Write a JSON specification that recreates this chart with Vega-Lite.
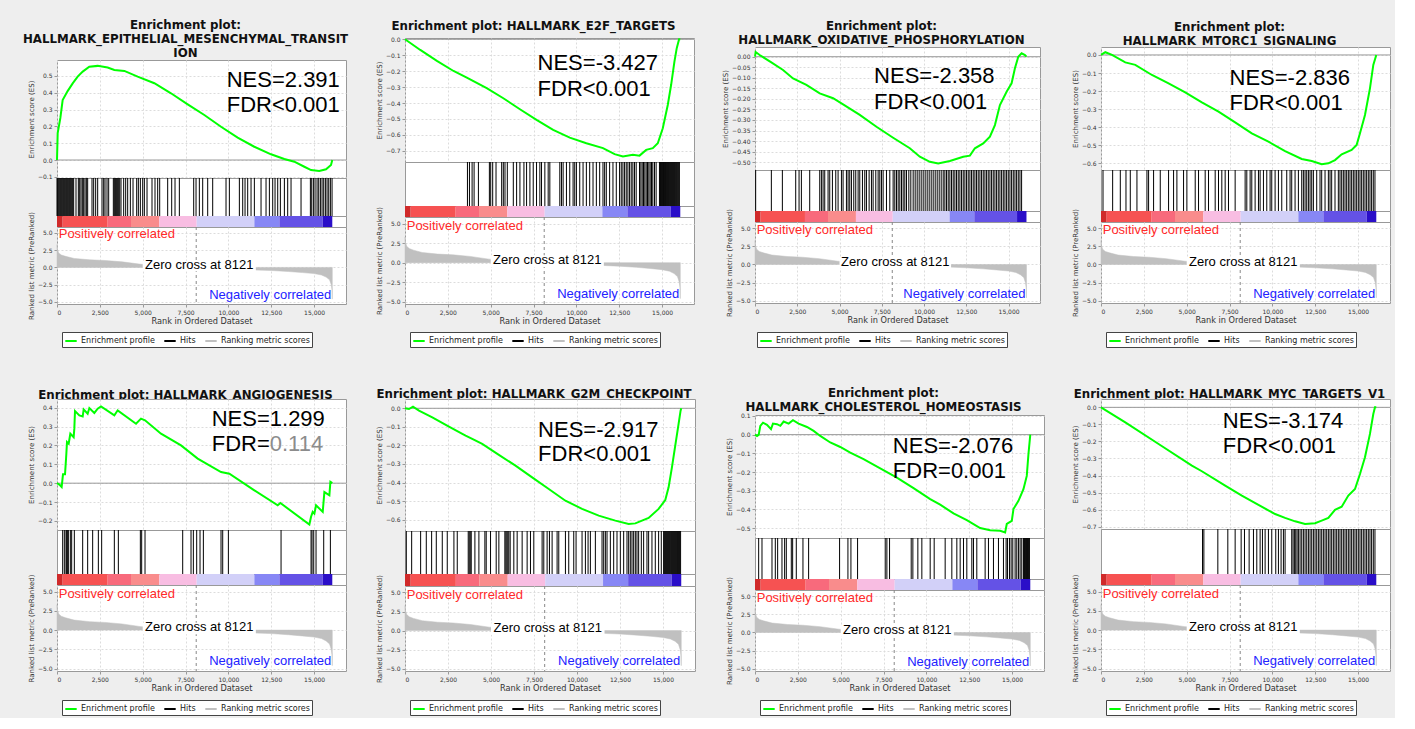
{
"$schema": "https://vega.github.io/schema/vega-lite/v6.json",
"background": "#eeeeee",
"padding": {"left": 22, "top": 15, "right": 4, "bottom": 2},
"columns": 4,
"spacing": {"row": 38, "column": 25},
"resolve": {"scale": {"stroke": "independent"}, "legend": {"stroke": "independent"}},
"datasets": {
"metric": [{"r":0,"v":3.3},{"r":30,"v":2.6},{"r":100,"v":2.1},{"r":250,"v":1.8},{"r":500,"v":1.6},{"r":1000,"v":1.3},{"r":1900,"v":1.1},{"r":2800,"v":1.0},{"r":3800,"v":0.8},{"r":4900,"v":0.45},{"r":6000,"v":0.35},{"r":7000,"v":0.2},{"r":7600,"v":0.1},{"r":8121,"v":0},{"r":9000,"v":-0.12},{"r":10000,"v":-0.25},{"r":11500,"v":-0.36},{"r":12500,"v":-0.45},{"r":13500,"v":-0.6},{"r":14300,"v":-0.75},{"r":15000,"v":-0.9},{"r":15430,"v":-1.1},{"r":15700,"v":-1.4},{"r":15900,"v":-1.8},{"r":16000,"v":-2.5},{"r":16040,"v":-3.2},{"r":16060,"v":-4.6}],
"cbar": [{"a":0,"b":331,"k":1},{"a":331,"b":2956,"k":2},{"a":2956,"b":4318,"k":3},{"a":4318,"b":5971,"k":4},{"a":5971,"b":8150,"k":5},{"a":8150,"b":11514,"k":6},{"a":11514,"b":12973,"k":7},{"a":12973,"b":15502,"k":8},{"a":15502,"b":16060,"k":9}],
"es1": [{"r":0,"es":0},{"r":40,"es":0.16},{"r":195,"es":0.25},{"r":330,"es":0.357},{"r":620,"es":0.41},{"r":915,"es":0.456},{"r":1205,"es":0.496},{"r":1500,"es":0.526},{"r":1885,"es":0.555},{"r":2370,"es":0.56},{"r":2955,"es":0.55},{"r":3345,"es":0.536},{"r":3930,"es":0.53},{"r":4705,"es":0.496},{"r":5680,"es":0.457},{"r":6650,"es":0.397},{"r":7625,"es":0.331},{"r":8595,"es":0.268},{"r":9570,"es":0.198},{"r":10540,"es":0.133},{"r":11510,"es":0.079},{"r":12485,"es":0.034},{"r":13260,"es":0.006},{"r":13845,"es":-0.01},{"r":14430,"es":-0.04},{"r":14820,"es":-0.06},{"r":15300,"es":-0.065},{"r":15695,"es":-0.055},{"r":15985,"es":-0.03},{"r":16060,"es":0}],
"es2": [{"r":0,"es":0},{"r":891,"es":-0.067},{"r":1860,"es":-0.136},{"r":2830,"es":-0.199},{"r":3605,"es":-0.24},{"r":4767,"es":-0.307},{"r":5736,"es":-0.37},{"r":6705,"es":-0.439},{"r":7674,"es":-0.506},{"r":8643,"es":-0.569},{"r":9612,"es":-0.617},{"r":10581,"es":-0.652},{"r":11550,"es":-0.683},{"r":12229,"es":-0.721},{"r":12713,"es":-0.736},{"r":13294,"es":-0.725},{"r":13682,"es":-0.73},{"r":14070,"es":-0.694},{"r":14457,"es":-0.683},{"r":14748,"es":-0.652},{"r":15039,"es":-0.558},{"r":15330,"es":-0.412},{"r":15524,"es":-0.287},{"r":15718,"es":-0.14},{"r":15853,"es":-0.056},{"r":15990,"es":0},{"r":16060,"es":0}],
"es3": [{"r":0,"es":0},{"r":39,"es":0.022},{"r":276,"es":0.008},{"r":967,"es":-0.027},{"r":1658,"es":-0.063},{"r":2250,"es":-0.103},{"r":3040,"es":-0.134},{"r":3830,"es":-0.174},{"r":4619,"es":-0.197},{"r":5211,"es":-0.226},{"r":6198,"es":-0.276},{"r":7185,"es":-0.332},{"r":8172,"es":-0.384},{"r":9159,"es":-0.434},{"r":9751,"es":-0.474},{"r":10344,"es":-0.498},{"r":10837,"es":-0.506},{"r":11528,"es":-0.494},{"r":12318,"es":-0.474},{"r":12713,"es":-0.469},{"r":13009,"es":-0.434},{"r":13502,"es":-0.411},{"r":13897,"es":-0.379},{"r":14193,"es":-0.324},{"r":14489,"es":-0.229},{"r":14884,"es":-0.166},{"r":15180,"es":-0.126},{"r":15377,"es":-0.055},{"r":15575,"es":0},{"r":15772,"es":0.016},{"r":15970,"es":0.008},{"r":16060,"es":0}],
"es4": [{"r":0,"es":0},{"r":252,"es":0.015},{"r":641,"es":0},{"r":1418,"es":-0.041},{"r":2000,"es":-0.055},{"r":2971,"es":-0.111},{"r":3942,"es":-0.157},{"r":4913,"es":-0.207},{"r":5884,"es":-0.262},{"r":6855,"es":-0.314},{"r":7826,"es":-0.373},{"r":8797,"es":-0.434},{"r":9768,"es":-0.48},{"r":10739,"es":-0.532},{"r":11710,"es":-0.576},{"r":12293,"es":-0.587},{"r":12876,"es":-0.605},{"r":13264,"es":-0.6},{"r":13652,"es":-0.582},{"r":14041,"es":-0.55},{"r":14623,"es":-0.526},{"r":14915,"es":-0.498},{"r":15109,"es":-0.434},{"r":15400,"es":-0.332},{"r":15691,"es":-0.185},{"r":15886,"es":-0.055},{"r":16060,"es":0}],
"es5": [{"r":0,"es":0},{"r":136,"es":-0.007},{"r":272,"es":-0.02},{"r":350,"es":0.047},{"r":467,"es":0.047},{"r":506,"es":0.1},{"r":545,"es":0.156},{"r":583,"es":0.218},{"r":681,"es":0.209},{"r":778,"es":0.262},{"r":972,"es":0.244},{"r":1011,"es":0.289},{"r":1050,"es":0.382},{"r":1303,"es":0.359},{"r":1498,"es":0.354},{"r":1556,"es":0.391},{"r":1789,"es":0.368},{"r":1887,"es":0.398},{"r":2178,"es":0.372},{"r":2373,"es":0.395},{"r":2567,"es":0.407},{"r":3345,"es":0.359},{"r":3540,"es":0.386},{"r":4610,"es":0.315},{"r":4901,"es":0.342},{"r":5135,"es":0.333},{"r":6068,"es":0.262},{"r":7235,"es":0.2},{"r":8208,"es":0.13},{"r":9569,"es":0.059},{"r":10056,"es":0.05},{"r":11514,"es":-0.038},{"r":12876,"es":-0.117},{"r":13031,"es":-0.105},{"r":14723,"es":-0.219},{"r":14821,"es":-0.178},{"r":14918,"es":-0.152},{"r":15015,"es":-0.161},{"r":15112,"es":-0.117},{"r":15502,"es":-0.152},{"r":15599,"es":-0.047},{"r":15891,"es":-0.064},{"r":15949,"es":0.007},{"r":16060,"es":0}],
"es6": [{"r":0,"es":0},{"r":232,"es":-0.004},{"r":464,"es":0.009},{"r":813,"es":-0.013},{"r":1587,"es":-0.049},{"r":2554,"es":-0.099},{"r":3522,"es":-0.147},{"r":3909,"es":-0.165},{"r":4489,"es":-0.192},{"r":5457,"es":-0.251},{"r":6424,"es":-0.309},{"r":7392,"es":-0.372},{"r":8359,"es":-0.435},{"r":9327,"es":-0.498},{"r":10294,"es":-0.542},{"r":11262,"es":-0.578},{"r":12229,"es":-0.605},{"r":13003,"es":-0.623},{"r":13390,"es":-0.62},{"r":13777,"es":-0.605},{"r":14164,"es":-0.591},{"r":14745,"es":-0.542},{"r":15132,"es":-0.494},{"r":15325,"es":-0.426},{"r":15519,"es":-0.318},{"r":15712,"es":-0.201},{"r":15906,"es":-0.084},{"r":16022,"es":-0.013},{"r":16060,"es":0}],
"es7": [{"r":0,"es":0},{"r":117,"es":-0.007},{"r":214,"es":-0.001},{"r":311,"es":0.047},{"r":466,"es":0.064},{"r":700,"es":0.052},{"r":933,"es":0.029},{"r":1049,"es":0.059},{"r":1282,"es":0.056},{"r":1477,"es":0.047},{"r":1671,"es":0.07},{"r":1962,"es":0.059},{"r":2215,"es":0.077},{"r":2545,"es":0.059},{"r":3031,"es":0.041},{"r":3420,"es":0.02},{"r":3808,"es":-0.007},{"r":4391,"es":-0.042},{"r":4974,"es":-0.066},{"r":5557,"es":-0.096},{"r":6334,"es":-0.131},{"r":7306,"es":-0.18},{"r":8277,"es":-0.23},{"r":9249,"es":-0.286},{"r":10220,"es":-0.345},{"r":10803,"es":-0.375},{"r":11580,"es":-0.421},{"r":12357,"es":-0.457},{"r":13134,"es":-0.5},{"r":13717,"es":-0.511},{"r":14300,"es":-0.514},{"r":14592,"es":-0.523},{"r":14689,"es":-0.478},{"r":14981,"es":-0.461},{"r":15078,"es":-0.398},{"r":15370,"es":-0.354},{"r":15661,"es":-0.292},{"r":15855,"es":-0.221},{"r":15952,"es":-0.105},{"r":16060,"es":0}],
"es8": [{"r":0,"es":0},{"r":1418,"es":-0.088},{"r":3360,"es":-0.215},{"r":5302,"es":-0.342},{"r":5884,"es":-0.375},{"r":7244,"es":-0.46},{"r":8215,"es":-0.518},{"r":9186,"es":-0.573},{"r":10157,"es":-0.626},{"r":10739,"es":-0.649},{"r":11322,"es":-0.669},{"r":11904,"es":-0.684},{"r":12487,"es":-0.68},{"r":12875,"es":-0.665},{"r":13264,"es":-0.649},{"r":13652,"es":-0.602},{"r":14041,"es":-0.583},{"r":14429,"es":-0.518},{"r":14818,"es":-0.479},{"r":15109,"es":-0.391},{"r":15400,"es":-0.293},{"r":15691,"es":-0.156},{"r":15886,"es":-0.039},{"r":15983,"es":0},{"r":16060,"es":0}],
"hits1": [{"r":0},{"r":39},{"r":97},{"r":156},{"r":214},{"r":272},{"r":331},{"r":389},{"r":447},{"r":506},{"r":564},{"r":622},{"r":681},{"r":739},{"r":797},{"r":856},{"r":914},{"r":972},{"r":1109},{"r":1245},{"r":1323},{"r":1400},{"r":1478},{"r":1556},{"r":1634},{"r":1712},{"r":1789},{"r":2042},{"r":2140},{"r":2256},{"r":2373},{"r":2626},{"r":2723},{"r":2801},{"r":2918},{"r":3015},{"r":3287},{"r":3345},{"r":3404},{"r":3462},{"r":3520},{"r":3579},{"r":3657},{"r":3734},{"r":3890},{"r":4007},{"r":4123},{"r":4279},{"r":4435},{"r":4649},{"r":4746},{"r":4863},{"r":4999},{"r":5096},{"r":5252},{"r":5543},{"r":5718},{"r":5874},{"r":5991},{"r":6457},{"r":6691},{"r":6885},{"r":7138},{"r":7975},{"r":8111},{"r":8305},{"r":8500},{"r":8791},{"r":9083},{"r":9861},{"r":10056},{"r":10639},{"r":10834},{"r":10970},{"r":11125},{"r":11320},{"r":11514},{"r":11903},{"r":12195},{"r":12390},{"r":12584},{"r":12720},{"r":12876},{"r":13031},{"r":13265},{"r":13459},{"r":13654},{"r":14237},{"r":14782},{"r":14860},{"r":14957},{"r":15054},{"r":15171},{"r":15268},{"r":15366},{"r":15463},{"r":15560},{"r":15657},{"r":15755},{"r":15852},{"r":15949},{"r":16046}],
"hits2": [{"r":3643},{"r":3760},{"r":3915},{"r":4031},{"r":4283},{"r":4923},{"r":5000},{"r":5116},{"r":5310},{"r":5640},{"r":5736},{"r":5833},{"r":5969},{"r":6318},{"r":6512},{"r":6705},{"r":6938},{"r":7093},{"r":7287},{"r":7481},{"r":7674},{"r":7868},{"r":7965},{"r":8159},{"r":8353},{"r":8450},{"r":9031},{"r":9128},{"r":9225},{"r":9419},{"r":9612},{"r":9806},{"r":9903},{"r":10000},{"r":10194},{"r":10388},{"r":10581},{"r":10775},{"r":10969},{"r":11163},{"r":11357},{"r":11550},{"r":11647},{"r":11744},{"r":11938},{"r":12132},{"r":12326},{"r":12519},{"r":12616},{"r":12713},{"r":12810},{"r":12907},{"r":13004},{"r":13101},{"r":13198},{"r":13294},{"r":13391},{"r":13488},{"r":13682},{"r":13760},{"r":13837},{"r":13915},{"r":13992},{"r":14070},{"r":14147},{"r":14225},{"r":14302},{"r":14380},{"r":14457},{"r":14554},{"r":14651},{"r":14845},{"r":14903},{"r":14961},{"r":15019},{"r":15078},{"r":15136},{"r":15194},{"r":15252},{"r":15310},{"r":15368},{"r":15426},{"r":15484},{"r":15542},{"r":15601},{"r":15659},{"r":15717},{"r":15775},{"r":15833},{"r":15891},{"r":15949},{"r":16008}],
"hits3": [{"r":39},{"r":967},{"r":1619},{"r":2408},{"r":2606},{"r":2744},{"r":3237},{"r":3830},{"r":3928},{"r":4027},{"r":4126},{"r":4323},{"r":4422},{"r":4580},{"r":4777},{"r":4915},{"r":5113},{"r":5211},{"r":5409},{"r":5507},{"r":5606},{"r":5705},{"r":5843},{"r":5961},{"r":6100},{"r":6198},{"r":6356},{"r":6494},{"r":6593},{"r":6751},{"r":6889},{"r":6988},{"r":7146},{"r":7284},{"r":7383},{"r":7481},{"r":7580},{"r":7778},{"r":7975},{"r":8172},{"r":8271},{"r":8370},{"r":8469},{"r":8567},{"r":8666},{"r":8765},{"r":8863},{"r":8962},{"r":9100},{"r":9218},{"r":9357},{"r":9475},{"r":9594},{"r":9712},{"r":9831},{"r":9949},{"r":10067},{"r":10186},{"r":10304},{"r":10423},{"r":10541},{"r":10660},{"r":10778},{"r":10897},{"r":11015},{"r":11133},{"r":11232},{"r":11331},{"r":11430},{"r":11528},{"r":11627},{"r":11726},{"r":11824},{"r":11923},{"r":12022},{"r":12120},{"r":12219},{"r":12318},{"r":12416},{"r":12515},{"r":12614},{"r":12713},{"r":12811},{"r":12910},{"r":13009},{"r":13107},{"r":13206},{"r":13305},{"r":13403},{"r":13502},{"r":13601},{"r":13700},{"r":13798},{"r":13897},{"r":13996},{"r":14094},{"r":14193},{"r":14292},{"r":14391},{"r":14489},{"r":14588},{"r":14687},{"r":14785},{"r":14884},{"r":14983},{"r":15081},{"r":15180},{"r":15279},{"r":15378},{"r":15476},{"r":15575},{"r":15674},{"r":15772}],
"hits4": [{"r":117},{"r":680},{"r":1126},{"r":1457},{"r":1709},{"r":2097},{"r":2680},{"r":2777},{"r":3068},{"r":3457},{"r":3942},{"r":4234},{"r":4428},{"r":4816},{"r":5010},{"r":5496},{"r":5690},{"r":6078},{"r":6273},{"r":6661},{"r":6855},{"r":7049},{"r":7244},{"r":7438},{"r":7826},{"r":8409},{"r":8506},{"r":8700},{"r":8797},{"r":8991},{"r":9186},{"r":9283},{"r":9477},{"r":9671},{"r":9865},{"r":9962},{"r":10157},{"r":10351},{"r":10545},{"r":10836},{"r":11030},{"r":11127},{"r":11322},{"r":11516},{"r":11710},{"r":11807},{"r":11904},{"r":12001},{"r":12099},{"r":12196},{"r":12293},{"r":12390},{"r":12584},{"r":12778},{"r":12875},{"r":13070},{"r":13264},{"r":13361},{"r":13458},{"r":13652},{"r":13846},{"r":13943},{"r":14041},{"r":14138},{"r":14235},{"r":14332},{"r":14429},{"r":14526},{"r":14623},{"r":14720},{"r":14817},{"r":14915},{"r":15012},{"r":15109},{"r":15206},{"r":15303},{"r":15400},{"r":15497},{"r":15594},{"r":15691},{"r":15788},{"r":15885},{"r":15983}],
"hits5": [{"r":331},{"r":428},{"r":525},{"r":564},{"r":622},{"r":661},{"r":778},{"r":856},{"r":1011},{"r":1498},{"r":1789},{"r":2081},{"r":2412},{"r":2606},{"r":3345},{"r":3579},{"r":4863},{"r":4940},{"r":5135},{"r":7333},{"r":7819},{"r":7955},{"r":8150},{"r":8344},{"r":8539},{"r":9569},{"r":9667},{"r":9998},{"r":13071},{"r":14821},{"r":14879},{"r":14977},{"r":15112},{"r":15560},{"r":15949}],
"hits6": [{"r":77},{"r":387},{"r":909},{"r":1238},{"r":1548},{"r":1819},{"r":2167},{"r":2457},{"r":2844},{"r":3038},{"r":3676},{"r":3734},{"r":3793},{"r":3851},{"r":4064},{"r":4296},{"r":4644},{"r":4721},{"r":4973},{"r":5302},{"r":5457},{"r":5805},{"r":5863},{"r":5921},{"r":5979},{"r":6037},{"r":6115},{"r":6327},{"r":6521},{"r":6811},{"r":7101},{"r":7295},{"r":7488},{"r":7972},{"r":8069},{"r":8262},{"r":8398},{"r":8553},{"r":8843},{"r":8940},{"r":9327},{"r":9520},{"r":9810},{"r":9946},{"r":10294},{"r":10488},{"r":10643},{"r":10778},{"r":11068},{"r":11455},{"r":11552},{"r":11649},{"r":11745},{"r":11939},{"r":12132},{"r":12326},{"r":12519},{"r":12713},{"r":12906},{"r":13003},{"r":13100},{"r":13197},{"r":13293},{"r":13390},{"r":13487},{"r":13584},{"r":13739},{"r":13874},{"r":14067},{"r":14164},{"r":14358},{"r":14551},{"r":14745},{"r":14900},{"r":15035},{"r":15093},{"r":15151},{"r":15209},{"r":15267},{"r":15325},{"r":15383},{"r":15442},{"r":15500},{"r":15558},{"r":15616},{"r":15674},{"r":15732},{"r":15790},{"r":15848},{"r":15906},{"r":15964},{"r":16022}],
"hits7": [{"r":214},{"r":408},{"r":991},{"r":1185},{"r":1321},{"r":1574},{"r":1729},{"r":1826},{"r":2118},{"r":2196},{"r":2409},{"r":2798},{"r":3128},{"r":4935},{"r":5421},{"r":5596},{"r":5984},{"r":7597},{"r":7694},{"r":7850},{"r":9113},{"r":9210},{"r":9501},{"r":9734},{"r":10220},{"r":10453},{"r":11094},{"r":11483},{"r":11775},{"r":11969},{"r":12163},{"r":12357},{"r":12649},{"r":12746},{"r":12940},{"r":13426},{"r":13620},{"r":13912},{"r":14203},{"r":14495},{"r":14650},{"r":14728},{"r":14845},{"r":14942},{"r":15039},{"r":15175},{"r":15272},{"r":15369},{"r":15466},{"r":15563},{"r":15661},{"r":15719},{"r":15777},{"r":15836},{"r":15894},{"r":15952},{"r":16010}],
"hits8": [{"r":5923},{"r":6001},{"r":6816},{"r":7399},{"r":7826},{"r":8176},{"r":8370},{"r":8642},{"r":8894},{"r":9089},{"r":9283},{"r":9419},{"r":9574},{"r":9768},{"r":9962},{"r":10195},{"r":10351},{"r":10506},{"r":10642},{"r":10739},{"r":11128},{"r":11205},{"r":11283},{"r":11361},{"r":11438},{"r":11516},{"r":11613},{"r":11710},{"r":11807},{"r":11904},{"r":12002},{"r":12099},{"r":12196},{"r":12293},{"r":12390},{"r":12487},{"r":12584},{"r":12681},{"r":12778},{"r":12875},{"r":12973},{"r":13070},{"r":13167},{"r":13264},{"r":13361},{"r":13458},{"r":13555},{"r":13652},{"r":13749},{"r":13846},{"r":13943},{"r":14041},{"r":14138},{"r":14235},{"r":14332},{"r":14429},{"r":14526},{"r":14623},{"r":14720},{"r":14817},{"r":14915},{"r":15012},{"r":15109},{"r":15206},{"r":15303},{"r":15400},{"r":15497},{"r":15594},{"r":15691},{"r":15788},{"r":15886},{"r":15983}]
},
"concat": [
{"bounds": "flush", "spacing": 0, "resolve": {"scale": {"stroke": "independent"}, "legend": {"stroke": "independent"}},
 "vconcat": [
  {"title": {"text": ["Enrichment plot:", "HALLMARK_EPITHELIAL_MESENCHYMAL_TRANSIT", "ION"], "offset": -45}, "width": 289, "height": 45, "view": {"stroke": null, "fill": null}, "data": {"values": [{}]}, "mark": {"type": "text", "text": ""}},
  {"width": 289, "height": 118,
   "layer": [
    {"data": {"values": [{}]}, "mark": {"type": "rule", "color": "#999999"}, "encoding": {"y": {"datum": 0}}},
    {"data": {"name": "es1"}, "mark": {"type": "line", "color": "#00ff00", "strokeWidth": 2}, "encoding": {
      "x": {"field": "r", "type": "quantitative", "scale": {"domain": [0, 16860], "nice": false}, "axis": {"values": [0,2500,5000,7500,10000,12500,15000], "tickCount": 20, "labels": false, "ticks": false, "title": null, "grid": true}},
      "y": {"field": "es", "type": "quantitative", "scale": {"domain": [-0.107, 0.595], "nice": false, "zero": false}, "axis": {"values": [-0.1,0,0.1,0.2,0.3,0.4,0.5], "tickCount": 20, "format": ".1f", "labelOverlap": false, "title": "Enrichment score (ES)", "grid": true}}}},
    {"data": {"values": [{}]}, "mark": {"type": "text", "text": "NES=2.391", "font": "Liberation Sans", "fontSize": 22, "align": "left", "baseline": "alphabetic", "color": "#000000"}, "encoding": {"x": {"datum": 9900}, "y": {"datum": 0.432}}},
    {"data": {"values": [{}]}, "mark": {"type": "text", "text": "FDR<0.001", "font": "Liberation Sans", "fontSize": 22, "align": "left", "baseline": "alphabetic", "color": "#000000"}, "encoding": {"x": {"datum": 9900}, "y": {"datum": 0.286}}}
   ]},
  {"width": 289, "height": 38, "data": {"name": "hits1"}, "mark": {"type": "rule", "color": "#000000", "strokeWidth": 1}, "encoding": {"x": {"field": "r", "type": "quantitative", "scale": {"domain": [0, 16860], "nice": false}, "axis": null}}},
  {"width": 289, "height": 11, "data": {"name": "cbar"}, "mark": {"type": "rect"}, "encoding": {"x": {"field": "a", "type": "quantitative", "scale": {"domain": [0, 16860], "nice": false}, "axis": null}, "x2": {"field": "b"}, "color": {"field": "k", "type": "ordinal", "scale": {"domain": [1,2,3,4,5,6,7,8,9], "range": ["#d02a2a","#f65252","#f86a7c","#f98c8c","#f8bde2","#d2d0f8","#8787f5","#6452e6","#2a0ec8"]}, "legend": null}}},
  {"width": 289, "height": 77,
   "layer": [
    {"data": {"name": "metric"}, "mark": {"type": "area", "fill": "#c0c0c0", "opacity": 1, "strokeWidth": 0.5}, "encoding": {
      "x": {"field": "r", "type": "quantitative", "scale": {"domain": [0, 16860], "nice": false}, "axis": {"values": [0,2500,5000,7500,10000,12500,15000], "tickCount": 20, "format": ",d", "labelOverlap": false, "title": "Rank in Ordered Dataset", "grid": true}},
      "y": {"field": "v", "type": "quantitative", "scale": {"domain": [-5.3, 5.85], "nice": false, "zero": false}, "axis": {"values": [-5,-2.5,0,2.5,5], "tickCount": 20, "format": ".1f", "labelOverlap": false, "title": "Ranked list metric (PreRanked)", "grid": true}},
      "y2": {"datum": 0},
      "stroke": {"datum": "Ranking metric scores", "scale": {"domain": ["Enrichment profile","Hits","Ranking metric scores"], "range": ["#00ff00","#000000","#c0c0c0"]}, "legend": {"orient": "none", "legendX": 5, "legendY": 105}}}},
    {"data": {"values": [{}]}, "mark": {"type": "rule", "color": "#888888", "strokeDash": [3,3]}, "encoding": {"x": {"datum": 8121}}},
    {"data": {"values": [{}]}, "mark": {"type": "rect", "color": "#ffffff"}, "encoding": {"x": {"datum": 5000}, "x2": {"datum": 11600}, "y": {"datum": -0.55}, "y2": {"datum": 0.95}}},
    {"data": {"values": [{}]}, "mark": {"type": "text", "text": "Positively correlated", "font": "Liberation Sans", "fontSize": 13, "align": "left", "baseline": "alphabetic", "color": "#ff2a2a"}, "encoding": {"x": {"datum": 100}, "y": {"datum": 4.2}}},
    {"data": {"values": [{}]}, "mark": {"type": "text", "text": "Zero cross at 8121", "font": "Liberation Sans", "fontSize": 13, "align": "center", "baseline": "middle", "color": "#000000"}, "encoding": {"x": {"datum": 8300}, "y": {"datum": 0.4}}},
    {"data": {"values": [{}]}, "mark": {"type": "text", "text": "Negatively correlated", "font": "Liberation Sans", "fontSize": 13, "align": "right", "baseline": "alphabetic", "color": "#2222ff"}, "encoding": {"x": {"datum": 16000}, "y": {"datum": -4.55}}}
   ]}
 ]},
{"bounds": "flush", "spacing": 0, "resolve": {"scale": {"stroke": "independent"}, "legend": {"stroke": "independent"}},
 "vconcat": [
  {"title": {"text": "Enrichment plot: HALLMARK_E2F_TARGETS", "offset": -17.5}, "width": 289, "height": 23, "view": {"stroke": null, "fill": null}, "data": {"values": [{}]}, "mark": {"type": "text", "text": ""}},
  {"width": 289, "height": 124,
   "layer": [
    {"data": {"values": [{}]}, "mark": {"type": "rule", "color": "#999999"}, "encoding": {"y": {"datum": 0}}},
    {"data": {"name": "es2"}, "mark": {"type": "line", "color": "#00ff00", "strokeWidth": 2}, "encoding": {
      "x": {"field": "r", "type": "quantitative", "scale": {"domain": [0, 16860], "nice": false}, "axis": {"values": [0,2500,5000,7500,10000,12500,15000], "tickCount": 20, "labels": false, "ticks": false, "title": null, "grid": true}},
      "y": {"field": "es", "type": "quantitative", "scale": {"domain": [-0.77, 0.008], "nice": false, "zero": false}, "axis": {"values": [-0.7,-0.6,-0.5,-0.4,-0.3,-0.2,-0.1,0], "tickCount": 20, "format": ".1f", "labelOverlap": false, "title": "Enrichment score (ES)", "grid": true}}}},
    {"data": {"values": [{}]}, "mark": {"type": "text", "text": "NES=-3.427", "font": "Liberation Sans", "fontSize": 22, "align": "left", "baseline": "alphabetic", "color": "#000000"}, "encoding": {"x": {"datum": 7733}, "y": {"datum": -0.192}}},
    {"data": {"values": [{}]}, "mark": {"type": "text", "text": "FDR<0.001", "font": "Liberation Sans", "fontSize": 22, "align": "left", "baseline": "alphabetic", "color": "#000000"}, "encoding": {"x": {"datum": 7733}, "y": {"datum": -0.354}}}
   ]},
  {"width": 289, "height": 44, "data": {"name": "hits2"}, "mark": {"type": "rule", "color": "#000000", "strokeWidth": 1}, "encoding": {"x": {"field": "r", "type": "quantitative", "scale": {"domain": [0, 16860], "nice": false}, "axis": null}}},
  {"width": 289, "height": 11, "data": {"name": "cbar"}, "mark": {"type": "rect"}, "encoding": {"x": {"field": "a", "type": "quantitative", "scale": {"domain": [0, 16860], "nice": false}, "axis": null}, "x2": {"field": "b"}, "color": {"field": "k", "type": "ordinal", "scale": {"domain": [1,2,3,4,5,6,7,8,9], "range": ["#d02a2a","#f65252","#f86a7c","#f98c8c","#f8bde2","#d2d0f8","#8787f5","#6452e6","#2a0ec8"]}, "legend": null}}},
  {"width": 289, "height": 87,
   "layer": [
    {"data": {"name": "metric"}, "mark": {"type": "area", "fill": "#c0c0c0", "opacity": 1, "strokeWidth": 0.5}, "encoding": {
      "x": {"field": "r", "type": "quantitative", "scale": {"domain": [0, 16860], "nice": false}, "axis": {"values": [0,2500,5000,7500,10000,12500,15000], "tickCount": 20, "format": ",d", "labelOverlap": false, "title": "Rank in Ordered Dataset", "grid": true}},
      "y": {"field": "v", "type": "quantitative", "scale": {"domain": [-5.3, 5.85], "nice": false, "zero": false}, "axis": {"values": [-5,-2.5,0,2.5,5], "tickCount": 20, "format": ".1f", "labelOverlap": false, "title": "Ranked list metric (PreRanked)", "grid": true}},
      "y2": {"datum": 0},
      "stroke": {"datum": "Ranking metric scores", "scale": {"domain": ["Enrichment profile","Hits","Ranking metric scores"], "range": ["#00ff00","#000000","#c0c0c0"]}, "legend": {"orient": "none", "legendX": 5, "legendY": 115}}}},
    {"data": {"values": [{}]}, "mark": {"type": "rule", "color": "#888888", "strokeDash": [3,3]}, "encoding": {"x": {"datum": 8121}}},
    {"data": {"values": [{}]}, "mark": {"type": "rect", "color": "#ffffff"}, "encoding": {"x": {"datum": 5000}, "x2": {"datum": 11600}, "y": {"datum": -0.55}, "y2": {"datum": 0.95}}},
    {"data": {"values": [{}]}, "mark": {"type": "text", "text": "Positively correlated", "font": "Liberation Sans", "fontSize": 13, "align": "left", "baseline": "alphabetic", "color": "#ff2a2a"}, "encoding": {"x": {"datum": 100}, "y": {"datum": 4.2}}},
    {"data": {"values": [{}]}, "mark": {"type": "text", "text": "Zero cross at 8121", "font": "Liberation Sans", "fontSize": 13, "align": "center", "baseline": "middle", "color": "#000000"}, "encoding": {"x": {"datum": 8300}, "y": {"datum": 0.4}}},
    {"data": {"values": [{}]}, "mark": {"type": "text", "text": "Negatively correlated", "font": "Liberation Sans", "fontSize": 13, "align": "right", "baseline": "alphabetic", "color": "#2222ff"}, "encoding": {"x": {"datum": 16000}, "y": {"datum": -4.55}}}
   ]}
 ]},
{"bounds": "flush", "spacing": 0, "resolve": {"scale": {"stroke": "independent"}, "legend": {"stroke": "independent"}},
 "vconcat": [
  {"title": {"text": ["Enrichment plot:", "HALLMARK_OXIDATIVE_PHOSPHORYLATION"], "offset": -32}, "width": 285, "height": 32, "view": {"stroke": null, "fill": null}, "data": {"values": [{}]}, "mark": {"type": "text", "text": ""}},
  {"width": 285, "height": 123,
   "layer": [
    {"data": {"values": [{}]}, "mark": {"type": "rule", "color": "#999999"}, "encoding": {"y": {"datum": 0}}},
    {"data": {"name": "es3"}, "mark": {"type": "line", "color": "#00ff00", "strokeWidth": 2}, "encoding": {
      "x": {"field": "r", "type": "quantitative", "scale": {"domain": [0, 16860], "nice": false}, "axis": {"values": [0,2500,5000,7500,10000,12500,15000], "tickCount": 20, "labels": false, "ticks": false, "title": null, "grid": true}},
      "y": {"field": "es", "type": "quantitative", "scale": {"domain": [-0.537, 0.046], "nice": false, "zero": false}, "axis": {"values": [-0.5,-0.45,-0.4,-0.35,-0.3,-0.25,-0.2,-0.15,-0.1,-0.05,0], "tickCount": 20, "format": ".2f", "labelOverlap": false, "title": "Enrichment score (ES)", "grid": true}}}},
    {"data": {"values": [{}]}, "mark": {"type": "text", "text": "NES=-2.358", "font": "Liberation Sans", "fontSize": 22, "align": "left", "baseline": "alphabetic", "color": "#000000"}, "encoding": {"x": {"datum": 7047}, "y": {"datum": -0.126}}},
    {"data": {"values": [{}]}, "mark": {"type": "text", "text": "FDR<0.001", "font": "Liberation Sans", "fontSize": 22, "align": "left", "baseline": "alphabetic", "color": "#000000"}, "encoding": {"x": {"datum": 7047}, "y": {"datum": -0.248}}}
   ]},
  {"width": 285, "height": 41, "data": {"name": "hits3"}, "mark": {"type": "rule", "color": "#000000", "strokeWidth": 1}, "encoding": {"x": {"field": "r", "type": "quantitative", "scale": {"domain": [0, 16860], "nice": false}, "axis": null}}},
  {"width": 285, "height": 11, "data": {"name": "cbar"}, "mark": {"type": "rect"}, "encoding": {"x": {"field": "a", "type": "quantitative", "scale": {"domain": [0, 16860], "nice": false}, "axis": null}, "x2": {"field": "b"}, "color": {"field": "k", "type": "ordinal", "scale": {"domain": [1,2,3,4,5,6,7,8,9], "range": ["#d02a2a","#f65252","#f86a7c","#f98c8c","#f8bde2","#d2d0f8","#8787f5","#6452e6","#2a0ec8"]}, "legend": null}}},
  {"width": 285, "height": 81,
   "layer": [
    {"data": {"name": "metric"}, "mark": {"type": "area", "fill": "#c0c0c0", "opacity": 1, "strokeWidth": 0.5}, "encoding": {
      "x": {"field": "r", "type": "quantitative", "scale": {"domain": [0, 16860], "nice": false}, "axis": {"values": [0,2500,5000,7500,10000,12500,15000], "tickCount": 20, "format": ",d", "labelOverlap": false, "title": "Rank in Ordered Dataset", "grid": true}},
      "y": {"field": "v", "type": "quantitative", "scale": {"domain": [-5.3, 5.85], "nice": false, "zero": false}, "axis": {"values": [-5,-2.5,0,2.5,5], "tickCount": 20, "format": ".1f", "labelOverlap": false, "title": "Ranked list metric (PreRanked)", "grid": true}},
      "y2": {"datum": 0},
      "stroke": {"datum": "Ranking metric scores", "scale": {"domain": ["Enrichment profile","Hits","Ranking metric scores"], "range": ["#00ff00","#000000","#c0c0c0"]}, "legend": {"orient": "none", "legendX": 2, "legendY": 110}}}},
    {"data": {"values": [{}]}, "mark": {"type": "rule", "color": "#888888", "strokeDash": [3,3]}, "encoding": {"x": {"datum": 8121}}},
    {"data": {"values": [{}]}, "mark": {"type": "rect", "color": "#ffffff"}, "encoding": {"x": {"datum": 5000}, "x2": {"datum": 11600}, "y": {"datum": -0.55}, "y2": {"datum": 0.95}}},
    {"data": {"values": [{}]}, "mark": {"type": "text", "text": "Positively correlated", "font": "Liberation Sans", "fontSize": 13, "align": "left", "baseline": "alphabetic", "color": "#ff2a2a"}, "encoding": {"x": {"datum": 100}, "y": {"datum": 4.2}}},
    {"data": {"values": [{}]}, "mark": {"type": "text", "text": "Zero cross at 8121", "font": "Liberation Sans", "fontSize": 13, "align": "center", "baseline": "middle", "color": "#000000"}, "encoding": {"x": {"datum": 8300}, "y": {"datum": 0.4}}},
    {"data": {"values": [{}]}, "mark": {"type": "text", "text": "Negatively correlated", "font": "Liberation Sans", "fontSize": 13, "align": "right", "baseline": "alphabetic", "color": "#2222ff"}, "encoding": {"x": {"datum": 16000}, "y": {"datum": -4.55}}}
   ]}
 ]},
{"bounds": "flush", "spacing": 0, "resolve": {"scale": {"stroke": "independent"}, "legend": {"stroke": "independent"}},
 "vconcat": [
  {"title": {"text": ["Enrichment plot:", "HALLMARK_MTORC1_SIGNALING"], "offset": -32.5}, "width": 289, "height": 32, "view": {"stroke": null, "fill": null}, "data": {"values": [{}]}, "mark": {"type": "text", "text": ""}},
  {"width": 289, "height": 123,
   "layer": [
    {"data": {"values": [{}]}, "mark": {"type": "rule", "color": "#999999"}, "encoding": {"y": {"datum": 0}}},
    {"data": {"name": "es4"}, "mark": {"type": "line", "color": "#00ff00", "strokeWidth": 2}, "encoding": {
      "x": {"field": "r", "type": "quantitative", "scale": {"domain": [0, 16860], "nice": false}, "axis": {"values": [0,2500,5000,7500,10000,12500,15000], "tickCount": 20, "labels": false, "ticks": false, "title": null, "grid": true}},
      "y": {"field": "es", "type": "quantitative", "scale": {"domain": [-0.637, 0.044], "nice": false, "zero": false}, "axis": {"values": [-0.6,-0.5,-0.4,-0.3,-0.2,-0.1,0], "tickCount": 20, "format": ".1f", "labelOverlap": false, "title": "Enrichment score (ES)", "grid": true}}}},
    {"data": {"values": [{}]}, "mark": {"type": "text", "text": "NES=-2.836", "font": "Liberation Sans", "fontSize": 22, "align": "left", "baseline": "alphabetic", "color": "#000000"}, "encoding": {"x": {"datum": 7498}, "y": {"datum": -0.166}}},
    {"data": {"values": [{}]}, "mark": {"type": "text", "text": "FDR<0.001", "font": "Liberation Sans", "fontSize": 22, "align": "left", "baseline": "alphabetic", "color": "#000000"}, "encoding": {"x": {"datum": 7498}, "y": {"datum": -0.305}}}
   ]},
  {"width": 289, "height": 41, "data": {"name": "hits4"}, "mark": {"type": "rule", "color": "#000000", "strokeWidth": 1}, "encoding": {"x": {"field": "r", "type": "quantitative", "scale": {"domain": [0, 16860], "nice": false}, "axis": null}}},
  {"width": 289, "height": 11, "data": {"name": "cbar"}, "mark": {"type": "rect"}, "encoding": {"x": {"field": "a", "type": "quantitative", "scale": {"domain": [0, 16860], "nice": false}, "axis": null}, "x2": {"field": "b"}, "color": {"field": "k", "type": "ordinal", "scale": {"domain": [1,2,3,4,5,6,7,8,9], "range": ["#d02a2a","#f65252","#f86a7c","#f98c8c","#f8bde2","#d2d0f8","#8787f5","#6452e6","#2a0ec8"]}, "legend": null}}},
  {"width": 289, "height": 81,
   "layer": [
    {"data": {"name": "metric"}, "mark": {"type": "area", "fill": "#c0c0c0", "opacity": 1, "strokeWidth": 0.5}, "encoding": {
      "x": {"field": "r", "type": "quantitative", "scale": {"domain": [0, 16860], "nice": false}, "axis": {"values": [0,2500,5000,7500,10000,12500,15000], "tickCount": 20, "format": ",d", "labelOverlap": false, "title": "Rank in Ordered Dataset", "grid": true}},
      "y": {"field": "v", "type": "quantitative", "scale": {"domain": [-5.3, 5.85], "nice": false, "zero": false}, "axis": {"values": [-5,-2.5,0,2.5,5], "tickCount": 20, "format": ".1f", "labelOverlap": false, "title": "Ranked list metric (PreRanked)", "grid": true}},
      "y2": {"datum": 0},
      "stroke": {"datum": "Ranking metric scores", "scale": {"domain": ["Enrichment profile","Hits","Ranking metric scores"], "range": ["#00ff00","#000000","#c0c0c0"]}, "legend": {"orient": "none", "legendX": 5, "legendY": 110}}}},
    {"data": {"values": [{}]}, "mark": {"type": "rule", "color": "#888888", "strokeDash": [3,3]}, "encoding": {"x": {"datum": 8121}}},
    {"data": {"values": [{}]}, "mark": {"type": "rect", "color": "#ffffff"}, "encoding": {"x": {"datum": 5000}, "x2": {"datum": 11600}, "y": {"datum": -0.55}, "y2": {"datum": 0.95}}},
    {"data": {"values": [{}]}, "mark": {"type": "text", "text": "Positively correlated", "font": "Liberation Sans", "fontSize": 13, "align": "left", "baseline": "alphabetic", "color": "#ff2a2a"}, "encoding": {"x": {"datum": 100}, "y": {"datum": 4.2}}},
    {"data": {"values": [{}]}, "mark": {"type": "text", "text": "Zero cross at 8121", "font": "Liberation Sans", "fontSize": 13, "align": "center", "baseline": "middle", "color": "#000000"}, "encoding": {"x": {"datum": 8300}, "y": {"datum": 0.4}}},
    {"data": {"values": [{}]}, "mark": {"type": "text", "text": "Negatively correlated", "font": "Liberation Sans", "fontSize": 13, "align": "right", "baseline": "alphabetic", "color": "#2222ff"}, "encoding": {"x": {"datum": 16000}, "y": {"datum": -4.55}}}
   ]}
 ]},
{"bounds": "flush", "spacing": 0, "resolve": {"scale": {"stroke": "independent"}, "legend": {"stroke": "independent"}},
 "vconcat": [
  {"title": {"text": "Enrichment plot: HALLMARK_ANGIOGENESIS", "offset": -15.3}, "width": 289, "height": 13, "view": {"stroke": null, "fill": null}, "data": {"values": [{}]}, "mark": {"type": "text", "text": ""}},
  {"width": 289, "height": 131,
   "layer": [
    {"data": {"values": [{}]}, "mark": {"type": "rule", "color": "#999999"}, "encoding": {"y": {"datum": 0}}},
    {"data": {"name": "es5"}, "mark": {"type": "line", "color": "#00ff00", "strokeWidth": 2}, "encoding": {
      "x": {"field": "r", "type": "quantitative", "scale": {"domain": [0, 16860], "nice": false}, "axis": {"values": [0,2500,5000,7500,10000,12500,15000], "tickCount": 20, "labels": false, "ticks": false, "title": null, "grid": true}},
      "y": {"field": "es", "type": "quantitative", "scale": {"domain": [-0.248, 0.446], "nice": false, "zero": false}, "axis": {"values": [-0.2,-0.1,0,0.1,0.2,0.3,0.4], "tickCount": 20, "format": ".1f", "labelOverlap": false, "title": "Enrichment score (ES)", "grid": true}}}},
    {"data": {"values": [{}]}, "mark": {"type": "text", "text": "NES=1.299", "font": "Liberation Sans", "fontSize": 22, "align": "left", "baseline": "alphabetic", "color": "#000000"}, "encoding": {"x": {"datum": 9025}, "y": {"datum": 0.302}}},
    {"data": {"values": [{}]}, "mark": {"type": "text", "text": "FDR=", "font": "Liberation Sans", "fontSize": 22, "align": "left", "baseline": "alphabetic", "color": "#000000"}, "encoding": {"x": {"datum": 9025}, "y": {"datum": 0.171}}},
    {"data": {"values": [{}]}, "mark": {"type": "text", "text": "0.114", "font": "Liberation Sans", "fontSize": 22, "align": "left", "baseline": "alphabetic", "color": "#8c8c8c", "dx": 58}, "encoding": {"x": {"datum": 9025}, "y": {"datum": 0.171}}}
   ]},
  {"width": 289, "height": 44, "data": {"name": "hits5"}, "mark": {"type": "rule", "color": "#000000", "strokeWidth": 1}, "encoding": {"x": {"field": "r", "type": "quantitative", "scale": {"domain": [0, 16860], "nice": false}, "axis": null}}},
  {"width": 289, "height": 11, "data": {"name": "cbar"}, "mark": {"type": "rect"}, "encoding": {"x": {"field": "a", "type": "quantitative", "scale": {"domain": [0, 16860], "nice": false}, "axis": null}, "x2": {"field": "b"}, "color": {"field": "k", "type": "ordinal", "scale": {"domain": [1,2,3,4,5,6,7,8,9], "range": ["#d02a2a","#f65252","#f86a7c","#f98c8c","#f8bde2","#d2d0f8","#8787f5","#6452e6","#2a0ec8"]}, "legend": null}}},
  {"width": 289, "height": 86,
   "layer": [
    {"data": {"name": "metric"}, "mark": {"type": "area", "fill": "#c0c0c0", "opacity": 1, "strokeWidth": 0.5}, "encoding": {
      "x": {"field": "r", "type": "quantitative", "scale": {"domain": [0, 16860], "nice": false}, "axis": {"values": [0,2500,5000,7500,10000,12500,15000], "tickCount": 20, "format": ",d", "labelOverlap": false, "title": "Rank in Ordered Dataset", "grid": true}},
      "y": {"field": "v", "type": "quantitative", "scale": {"domain": [-5.3, 5.85], "nice": false, "zero": false}, "axis": {"values": [-5,-2.5,0,2.5,5], "tickCount": 20, "format": ".1f", "labelOverlap": false, "title": "Ranked list metric (PreRanked)", "grid": true}},
      "y2": {"datum": 0},
      "stroke": {"datum": "Ranking metric scores", "scale": {"domain": ["Enrichment profile","Hits","Ranking metric scores"], "range": ["#00ff00","#000000","#c0c0c0"]}, "legend": {"orient": "none", "legendX": 5, "legendY": 115}}}},
    {"data": {"values": [{}]}, "mark": {"type": "rule", "color": "#888888", "strokeDash": [3,3]}, "encoding": {"x": {"datum": 8121}}},
    {"data": {"values": [{}]}, "mark": {"type": "rect", "color": "#ffffff"}, "encoding": {"x": {"datum": 5000}, "x2": {"datum": 11600}, "y": {"datum": -0.55}, "y2": {"datum": 0.95}}},
    {"data": {"values": [{}]}, "mark": {"type": "text", "text": "Positively correlated", "font": "Liberation Sans", "fontSize": 13, "align": "left", "baseline": "alphabetic", "color": "#ff2a2a"}, "encoding": {"x": {"datum": 100}, "y": {"datum": 4.2}}},
    {"data": {"values": [{}]}, "mark": {"type": "text", "text": "Zero cross at 8121", "font": "Liberation Sans", "fontSize": 13, "align": "center", "baseline": "middle", "color": "#000000"}, "encoding": {"x": {"datum": 8300}, "y": {"datum": 0.4}}},
    {"data": {"values": [{}]}, "mark": {"type": "text", "text": "Negatively correlated", "font": "Liberation Sans", "fontSize": 13, "align": "right", "baseline": "alphabetic", "color": "#2222ff"}, "encoding": {"x": {"datum": 16000}, "y": {"datum": -4.55}}}
   ]}
 ]},
{"bounds": "flush", "spacing": 0, "resolve": {"scale": {"stroke": "independent"}, "legend": {"stroke": "independent"}},
 "vconcat": [
  {"title": {"text": "Enrichment plot: HALLMARK_G2M_CHECKPOINT", "offset": -14.7}, "width": 290, "height": 13, "view": {"stroke": null, "fill": null}, "data": {"values": [{}]}, "mark": {"type": "text", "text": ""}},
  {"width": 290, "height": 132,
   "layer": [
    {"data": {"values": [{}]}, "mark": {"type": "rule", "color": "#999999"}, "encoding": {"y": {"datum": 0}}},
    {"data": {"name": "es6"}, "mark": {"type": "line", "color": "#00ff00", "strokeWidth": 2}, "encoding": {
      "x": {"field": "r", "type": "quantitative", "scale": {"domain": [0, 16860], "nice": false}, "axis": {"values": [0,2500,5000,7500,10000,12500,15000], "tickCount": 20, "labels": false, "ticks": false, "title": null, "grid": true}},
      "y": {"field": "es", "type": "quantitative", "scale": {"domain": [-0.661, 0.05], "nice": false, "zero": false}, "axis": {"values": [-0.6,-0.5,-0.4,-0.3,-0.2,-0.1,0], "tickCount": 20, "format": ".1f", "labelOverlap": false, "title": "Enrichment score (ES)", "grid": true}}}},
    {"data": {"values": [{}]}, "mark": {"type": "text", "text": "NES=-2.917", "font": "Liberation Sans", "fontSize": 22, "align": "left", "baseline": "alphabetic", "color": "#000000"}, "encoding": {"x": {"datum": 7737}, "y": {"datum": -0.153}}},
    {"data": {"values": [{}]}, "mark": {"type": "text", "text": "FDR<0.001", "font": "Liberation Sans", "fontSize": 22, "align": "left", "baseline": "alphabetic", "color": "#000000"}, "encoding": {"x": {"datum": 7737}, "y": {"datum": -0.285}}}
   ]},
  {"width": 290, "height": 43, "data": {"name": "hits6"}, "mark": {"type": "rule", "color": "#000000", "strokeWidth": 1}, "encoding": {"x": {"field": "r", "type": "quantitative", "scale": {"domain": [0, 16860], "nice": false}, "axis": null}}},
  {"width": 290, "height": 12, "data": {"name": "cbar"}, "mark": {"type": "rect"}, "encoding": {"x": {"field": "a", "type": "quantitative", "scale": {"domain": [0, 16860], "nice": false}, "axis": null}, "x2": {"field": "b"}, "color": {"field": "k", "type": "ordinal", "scale": {"domain": [1,2,3,4,5,6,7,8,9], "range": ["#d02a2a","#f65252","#f86a7c","#f98c8c","#f8bde2","#d2d0f8","#8787f5","#6452e6","#2a0ec8"]}, "legend": null}}},
  {"width": 290, "height": 85,
   "layer": [
    {"data": {"name": "metric"}, "mark": {"type": "area", "fill": "#c0c0c0", "opacity": 1, "strokeWidth": 0.5}, "encoding": {
      "x": {"field": "r", "type": "quantitative", "scale": {"domain": [0, 16860], "nice": false}, "axis": {"values": [0,2500,5000,7500,10000,12500,15000], "tickCount": 20, "format": ",d", "labelOverlap": false, "title": "Rank in Ordered Dataset", "grid": true}},
      "y": {"field": "v", "type": "quantitative", "scale": {"domain": [-5.3, 5.85], "nice": false, "zero": false}, "axis": {"values": [-5,-2.5,0,2.5,5], "tickCount": 20, "format": ".1f", "labelOverlap": false, "title": "Ranked list metric (PreRanked)", "grid": true}},
      "y2": {"datum": 0},
      "stroke": {"datum": "Ranking metric scores", "scale": {"domain": ["Enrichment profile","Hits","Ranking metric scores"], "range": ["#00ff00","#000000","#c0c0c0"]}, "legend": {"orient": "none", "legendX": 5, "legendY": 114}}}},
    {"data": {"values": [{}]}, "mark": {"type": "rule", "color": "#888888", "strokeDash": [3,3]}, "encoding": {"x": {"datum": 8121}}},
    {"data": {"values": [{}]}, "mark": {"type": "rect", "color": "#ffffff"}, "encoding": {"x": {"datum": 5000}, "x2": {"datum": 11600}, "y": {"datum": -0.55}, "y2": {"datum": 0.95}}},
    {"data": {"values": [{}]}, "mark": {"type": "text", "text": "Positively correlated", "font": "Liberation Sans", "fontSize": 13, "align": "left", "baseline": "alphabetic", "color": "#ff2a2a"}, "encoding": {"x": {"datum": 100}, "y": {"datum": 4.2}}},
    {"data": {"values": [{}]}, "mark": {"type": "text", "text": "Zero cross at 8121", "font": "Liberation Sans", "fontSize": 13, "align": "center", "baseline": "middle", "color": "#000000"}, "encoding": {"x": {"datum": 8300}, "y": {"datum": 0.4}}},
    {"data": {"values": [{}]}, "mark": {"type": "text", "text": "Negatively correlated", "font": "Liberation Sans", "fontSize": 13, "align": "right", "baseline": "alphabetic", "color": "#2222ff"}, "encoding": {"x": {"datum": 16000}, "y": {"datum": -4.55}}}
   ]}
 ]},
{"bounds": "flush", "spacing": 0, "resolve": {"scale": {"stroke": "independent"}, "legend": {"stroke": "independent"}},
 "vconcat": [
  {"title": {"text": ["Enrichment plot:", "HALLMARK_CHOLESTEROL_HOMEOSTASIS"], "offset": -28}, "width": 289, "height": 29, "view": {"stroke": null, "fill": null}, "data": {"values": [{}]}, "mark": {"type": "text", "text": ""}},
  {"width": 289, "height": 123,
   "layer": [
    {"data": {"values": [{}]}, "mark": {"type": "rule", "color": "#999999"}, "encoding": {"y": {"datum": 0}}},
    {"data": {"name": "es7"}, "mark": {"type": "line", "color": "#00ff00", "strokeWidth": 2}, "encoding": {
      "x": {"field": "r", "type": "quantitative", "scale": {"domain": [0, 16860], "nice": false}, "axis": {"values": [0,2500,5000,7500,10000,12500,15000], "tickCount": 20, "labels": false, "ticks": false, "title": null, "grid": true}},
      "y": {"field": "es", "type": "quantitative", "scale": {"domain": [-0.553, 0.105], "nice": false, "zero": false}, "axis": {"values": [-0.5,-0.4,-0.3,-0.2,-0.1,0,0.1], "tickCount": 20, "format": ".1f", "labelOverlap": false, "title": "Enrichment score (ES)", "grid": true}}}},
    {"data": {"values": [{}]}, "mark": {"type": "text", "text": "NES=-2.076", "font": "Liberation Sans", "fontSize": 22, "align": "left", "baseline": "alphabetic", "color": "#000000"}, "encoding": {"x": {"datum": 8040}, "y": {"datum": -0.096}}},
    {"data": {"values": [{}]}, "mark": {"type": "text", "text": "FDR=0.001", "font": "Liberation Sans", "fontSize": 22, "align": "left", "baseline": "alphabetic", "color": "#000000"}, "encoding": {"x": {"datum": 8040}, "y": {"datum": -0.23}}}
   ]},
  {"width": 289, "height": 41, "data": {"name": "hits7"}, "mark": {"type": "rule", "color": "#000000", "strokeWidth": 1}, "encoding": {"x": {"field": "r", "type": "quantitative", "scale": {"domain": [0, 16860], "nice": false}, "axis": null}}},
  {"width": 289, "height": 11, "data": {"name": "cbar"}, "mark": {"type": "rect"}, "encoding": {"x": {"field": "a", "type": "quantitative", "scale": {"domain": [0, 16860], "nice": false}, "axis": null}, "x2": {"field": "b"}, "color": {"field": "k", "type": "ordinal", "scale": {"domain": [1,2,3,4,5,6,7,8,9], "range": ["#d02a2a","#f65252","#f86a7c","#f98c8c","#f8bde2","#d2d0f8","#8787f5","#6452e6","#2a0ec8"]}, "legend": null}}},
  {"width": 289, "height": 81,
   "layer": [
    {"data": {"name": "metric"}, "mark": {"type": "area", "fill": "#c0c0c0", "opacity": 1, "strokeWidth": 0.5}, "encoding": {
      "x": {"field": "r", "type": "quantitative", "scale": {"domain": [0, 16860], "nice": false}, "axis": {"values": [0,2500,5000,7500,10000,12500,15000], "tickCount": 20, "format": ",d", "labelOverlap": false, "title": "Rank in Ordered Dataset", "grid": true}},
      "y": {"field": "v", "type": "quantitative", "scale": {"domain": [-5.3, 5.85], "nice": false, "zero": false}, "axis": {"values": [-5,-2.5,0,2.5,5], "tickCount": 20, "format": ".1f", "labelOverlap": false, "title": "Ranked list metric (PreRanked)", "grid": true}},
      "y2": {"datum": 0},
      "stroke": {"datum": "Ranking metric scores", "scale": {"domain": ["Enrichment profile","Hits","Ranking metric scores"], "range": ["#00ff00","#000000","#c0c0c0"]}, "legend": {"orient": "none", "legendX": 5, "legendY": 110}}}},
    {"data": {"values": [{}]}, "mark": {"type": "rule", "color": "#888888", "strokeDash": [3,3]}, "encoding": {"x": {"datum": 8121}}},
    {"data": {"values": [{}]}, "mark": {"type": "rect", "color": "#ffffff"}, "encoding": {"x": {"datum": 5000}, "x2": {"datum": 11600}, "y": {"datum": -0.55}, "y2": {"datum": 0.95}}},
    {"data": {"values": [{}]}, "mark": {"type": "text", "text": "Positively correlated", "font": "Liberation Sans", "fontSize": 13, "align": "left", "baseline": "alphabetic", "color": "#ff2a2a"}, "encoding": {"x": {"datum": 100}, "y": {"datum": 4.2}}},
    {"data": {"values": [{}]}, "mark": {"type": "text", "text": "Zero cross at 8121", "font": "Liberation Sans", "fontSize": 13, "align": "center", "baseline": "middle", "color": "#000000"}, "encoding": {"x": {"datum": 8300}, "y": {"datum": 0.4}}},
    {"data": {"values": [{}]}, "mark": {"type": "text", "text": "Negatively correlated", "font": "Liberation Sans", "fontSize": 13, "align": "right", "baseline": "alphabetic", "color": "#2222ff"}, "encoding": {"x": {"datum": 16000}, "y": {"datum": -4.55}}}
   ]}
 ]},
{"bounds": "flush", "spacing": 0, "resolve": {"scale": {"stroke": "independent"}, "legend": {"stroke": "independent"}},
 "vconcat": [
  {"title": {"text": "Enrichment plot: HALLMARK_MYC_TARGETS_V1", "offset": -14.7}, "width": 289, "height": 13, "view": {"stroke": null, "fill": null}, "data": {"values": [{}]}, "mark": {"type": "text", "text": ""}},
  {"width": 289, "height": 130,
   "layer": [
    {"data": {"values": [{}]}, "mark": {"type": "rule", "color": "#999999"}, "encoding": {"y": {"datum": 0}}},
    {"data": {"name": "es8"}, "mark": {"type": "line", "color": "#00ff00", "strokeWidth": 2}, "encoding": {
      "x": {"field": "r", "type": "quantitative", "scale": {"domain": [0, 16860], "nice": false}, "axis": {"values": [0,2500,5000,7500,10000,12500,15000], "tickCount": 20, "labels": false, "ticks": false, "title": null, "grid": true}},
      "y": {"field": "es", "type": "quantitative", "scale": {"domain": [-0.714, 0.049], "nice": false, "zero": false}, "axis": {"values": [-0.7,-0.6,-0.5,-0.4,-0.3,-0.2,-0.1,0], "tickCount": 20, "format": ".1f", "labelOverlap": false, "title": "Enrichment score (ES)", "grid": true}}}},
    {"data": {"values": [{}]}, "mark": {"type": "text", "text": "NES=-3.174", "font": "Liberation Sans", "fontSize": 22, "align": "left", "baseline": "alphabetic", "color": "#000000"}, "encoding": {"x": {"datum": 7108}, "y": {"datum": -0.121}}},
    {"data": {"values": [{}]}, "mark": {"type": "text", "text": "FDR<0.001", "font": "Liberation Sans", "fontSize": 22, "align": "left", "baseline": "alphabetic", "color": "#000000"}, "encoding": {"x": {"datum": 7108}, "y": {"datum": -0.268}}}
   ]},
  {"width": 289, "height": 45, "data": {"name": "hits8"}, "mark": {"type": "rule", "color": "#000000", "strokeWidth": 1}, "encoding": {"x": {"field": "r", "type": "quantitative", "scale": {"domain": [0, 16860], "nice": false}, "axis": null}}},
  {"width": 289, "height": 11, "data": {"name": "cbar"}, "mark": {"type": "rect"}, "encoding": {"x": {"field": "a", "type": "quantitative", "scale": {"domain": [0, 16860], "nice": false}, "axis": null}, "x2": {"field": "b"}, "color": {"field": "k", "type": "ordinal", "scale": {"domain": [1,2,3,4,5,6,7,8,9], "range": ["#d02a2a","#f65252","#f86a7c","#f98c8c","#f8bde2","#d2d0f8","#8787f5","#6452e6","#2a0ec8"]}, "legend": null}}},
  {"width": 289, "height": 86,
   "layer": [
    {"data": {"name": "metric"}, "mark": {"type": "area", "fill": "#c0c0c0", "opacity": 1, "strokeWidth": 0.5}, "encoding": {
      "x": {"field": "r", "type": "quantitative", "scale": {"domain": [0, 16860], "nice": false}, "axis": {"values": [0,2500,5000,7500,10000,12500,15000], "tickCount": 20, "format": ",d", "labelOverlap": false, "title": "Rank in Ordered Dataset", "grid": true}},
      "y": {"field": "v", "type": "quantitative", "scale": {"domain": [-5.3, 5.85], "nice": false, "zero": false}, "axis": {"values": [-5,-2.5,0,2.5,5], "tickCount": 20, "format": ".1f", "labelOverlap": false, "title": "Ranked list metric (PreRanked)", "grid": true}},
      "y2": {"datum": 0},
      "stroke": {"datum": "Ranking metric scores", "scale": {"domain": ["Enrichment profile","Hits","Ranking metric scores"], "range": ["#00ff00","#000000","#c0c0c0"]}, "legend": {"orient": "none", "legendX": 5, "legendY": 115}}}},
    {"data": {"values": [{}]}, "mark": {"type": "rule", "color": "#888888", "strokeDash": [3,3]}, "encoding": {"x": {"datum": 8121}}},
    {"data": {"values": [{}]}, "mark": {"type": "rect", "color": "#ffffff"}, "encoding": {"x": {"datum": 5000}, "x2": {"datum": 11600}, "y": {"datum": -0.55}, "y2": {"datum": 0.95}}},
    {"data": {"values": [{}]}, "mark": {"type": "text", "text": "Positively correlated", "font": "Liberation Sans", "fontSize": 13, "align": "left", "baseline": "alphabetic", "color": "#ff2a2a"}, "encoding": {"x": {"datum": 100}, "y": {"datum": 4.2}}},
    {"data": {"values": [{}]}, "mark": {"type": "text", "text": "Zero cross at 8121", "font": "Liberation Sans", "fontSize": 13, "align": "center", "baseline": "middle", "color": "#000000"}, "encoding": {"x": {"datum": 8300}, "y": {"datum": 0.4}}},
    {"data": {"values": [{}]}, "mark": {"type": "text", "text": "Negatively correlated", "font": "Liberation Sans", "fontSize": 13, "align": "right", "baseline": "alphabetic", "color": "#2222ff"}, "encoding": {"x": {"datum": 16000}, "y": {"datum": -4.55}}}
   ]}
 ]}
],
"config": {
 "view": {"stroke": "#999999", "fill": "#ffffff"},
 "axis": {"labelFont": "DejaVu Sans", "labelFontSize": 6, "labelColor": "#333333", "labelOverlap": false, "tickCount": 20, "titleFont": "DejaVu Sans", "titleFontSize": 7, "titleFontWeight": "normal", "titleColor": "#333333", "tickColor": "#999999", "tickSize": 3, "domain": false, "gridColor": "#dcdcdc", "gridDash": [2, 2], "labelPadding": 2, "titlePadding": 3},
 "axisX": {"titleFontSize": 8.2, "titlePadding": 2},
 "title": {"font": "DejaVu Sans", "fontSize": 11.8, "fontWeight": "bold", "color": "#111111", "lineHeight": 14, "anchor": "middle", "frame": "group", "dx": -16},
 "legend": {"direction": "horizontal", "title": null, "symbolType": "stroke", "symbolStrokeWidth": 2, "symbolSize": 130, "labelFont": "DejaVu Sans", "labelFontSize": 8, "labelColor": "#222222", "strokeColor": "#444444", "fillColor": "#ffffff", "padding": 2, "columnPadding": 5, "labelOffset": 3, "labelLimit": 0}
}
}
